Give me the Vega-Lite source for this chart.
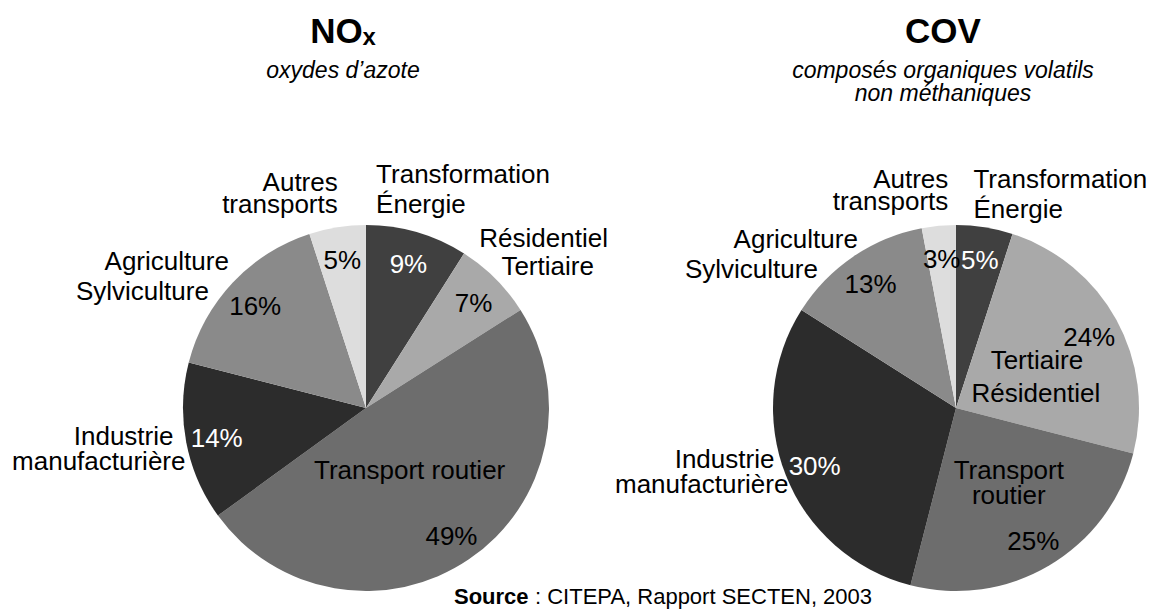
{
  "$schema": "https://vega.github.io/schema/vega-lite/v6.json",
  "background": "white",
  "padding": {"left": 12, "top": 14, "right": 5, "bottom": 5},
  "config": {
    "font": "Liberation Sans",
    "view": {"stroke": null},
    "title": {"font": "Liberation Sans", "subtitleFont": "Liberation Sans", "color": "black", "subtitleColor": "black"}
  },
  "datasets": {
    "nox": [
      {"idx": 1, "cat": "Transformation Énergie", "l1": "Transformation", "l2": "Énergie", "p": 0.09},
      {"idx": 2, "cat": "Résidentiel Tertiaire", "l1": "Résidentiel", "l2": "Tertiaire", "p": 0.07},
      {"idx": 3, "cat": "Transport routier", "l1": "Transport routier", "l2": "", "p": 0.49},
      {"idx": 4, "cat": "Industrie manufacturière", "l1": "Industrie", "l2": "manufacturière", "p": 0.14},
      {"idx": 5, "cat": "Agriculture Sylviculture", "l1": "Agriculture", "l2": "Sylviculture", "p": 0.16},
      {"idx": 6, "cat": "Autres transports", "l1": "Autres", "l2": "transports", "p": 0.05}
    ],
    "cov": [
      {"idx": 1, "cat": "Transformation Énergie", "l1": "Transformation", "l2": "Énergie", "p": 0.05},
      {"idx": 2, "cat": "Résidentiel Tertiaire", "l1": "Tertiaire", "l2": "Résidentiel", "p": 0.24},
      {"idx": 3, "cat": "Transport routier", "l1": "Transport", "l2": "routier", "p": 0.25},
      {"idx": 4, "cat": "Industrie manufacturière", "l1": "Industrie", "l2": "manufacturière", "p": 0.30},
      {"idx": 5, "cat": "Agriculture Sylviculture", "l1": "Agriculture", "l2": "Sylviculture", "p": 0.13},
      {"idx": 6, "cat": "Autres transports", "l1": "Autres", "l2": "transports", "p": 0.03}
    ]
  },
  "bounds": "flush",
  "title": {"text": ": CITEPA, Rapport SECTEN, 2003", "orient": "bottom", "anchor": "start", "frame": "group", "fontSize": 22, "fontWeight": "normal", "offset": -46, "dx": 369},
  "vconcat": [
    {
      "spacing": 190,
      "bounds": "flush",
      "title": {"text": "Source", "orient": "bottom", "anchor": "start", "frame": "group", "fontSize": 22, "fontWeight": "bold", "offset": -46, "dx": 288},
      "hconcat": [
        {
          "width": 400,
          "height": 370,
          "data": {"name": "nox"},
          "title": {"text": "NOₓ", "subtitle": "oxydes d’azote", "anchor": "middle", "frame": "group", "fontSize": 35, "fontWeight": "bold", "subtitleFontSize": 23, "subtitleFontStyle": "italic", "subtitlePadding": 10, "offset": 73, "dx": -23},
          "encoding": {
            "theta": {"field": "p", "type": "quantitative", "stack": true},
            "order": {"field": "idx", "type": "quantitative"},
            "detail": {"field": "cat", "type": "nominal"}
          },
          "layer": [
            {"mark": {"type": "arc", "outerRadius": 183},
             "encoding": {"color": {"field": "cat", "type": "nominal", "legend": null,
               "scale": {"domain": ["Transformation Énergie", "Résidentiel Tertiaire", "Transport routier", "Industrie manufacturière", "Agriculture Sylviculture", "Autres transports"],
                         "range": ["#404040", "#a9a9a9", "#6d6d6d", "#2c2c2c", "#8a8a8a", "#dddddd"]}}}},
            {"mark": {"type": "text", "radius": 152, "dy": 3, "fontSize": 26, "baseline": "middle"},
             "encoding": {"text": {"field": "p", "type": "quantitative", "format": ".0%"},
               "color": {"condition": {"test": "datum.idx === 1 || datum.idx === 4", "value": "white"}, "value": "black"}}},
            {"mark": {"type": "text", "radius": 219, "dx": -51, "dy": -15, "align": "left", "baseline": "alphabetic", "fontSize": 26},
             "encoding": {"text": {"condition": {"test": "datum.idx === 1", "field": "l1", "type": "nominal"}, "value": ""}}},
            {"mark": {"type": "text", "radius": 219, "dx": -51, "dy": 15, "align": "left", "baseline": "alphabetic", "fontSize": 26},
             "encoding": {"text": {"condition": {"test": "datum.idx === 1", "field": "l2", "type": "nominal"}, "value": ""}}},
            {"mark": {"type": "text", "radius": 230, "dx": 15, "dy": 2, "align": "center", "baseline": "alphabetic", "fontSize": 26},
             "encoding": {"text": {"condition": {"test": "datum.idx === 2", "field": "l1", "type": "nominal"}, "value": ""}}},
            {"mark": {"type": "text", "radius": 230, "dx": 19, "dy": 30, "align": "center", "baseline": "alphabetic", "fontSize": 26},
             "encoding": {"text": {"condition": {"test": "datum.idx === 2", "field": "l2", "type": "nominal"}, "value": ""}}},
            {"mark": {"type": "text", "radius": 83, "dx": -3, "dy": 2, "align": "center", "baseline": "alphabetic", "fontSize": 26},
             "encoding": {"text": {"condition": {"test": "datum.idx === 3", "field": "l1", "type": "nominal"}, "value": ""}}},
            {"mark": {"type": "text", "radius": 196, "dx": 0, "dy": 0, "align": "right", "baseline": "alphabetic", "fontSize": 26},
             "encoding": {"text": {"condition": {"test": "datum.idx === 4", "field": "l1", "type": "nominal"}, "value": ""}}},
            {"mark": {"type": "text", "radius": 196, "dx": 12, "dy": 25, "align": "right", "baseline": "alphabetic", "fontSize": 26},
             "encoding": {"text": {"condition": {"test": "datum.idx === 4", "field": "l2", "type": "nominal"}, "value": ""}}},
            {"mark": {"type": "text", "radius": 195, "dx": 5, "dy": -5, "align": "right", "baseline": "alphabetic", "fontSize": 26},
             "encoding": {"text": {"condition": {"test": "datum.idx === 5", "field": "l1", "type": "nominal"}, "value": ""}}},
            {"mark": {"type": "text", "radius": 195, "dx": -15, "dy": 25, "align": "right", "baseline": "alphabetic", "fontSize": 26},
             "encoding": {"text": {"condition": {"test": "datum.idx === 5", "field": "l2", "type": "nominal"}, "value": ""}}},
            {"mark": {"type": "text", "radius": 219, "dx": 6, "dy": -1, "align": "right", "baseline": "alphabetic", "fontSize": 26},
             "encoding": {"text": {"condition": {"test": "datum.idx === 6", "field": "l1", "type": "nominal"}, "value": ""}}},
            {"mark": {"type": "text", "radius": 219, "dx": 6, "dy": 21, "align": "right", "baseline": "alphabetic", "fontSize": 26},
             "encoding": {"text": {"condition": {"test": "datum.idx === 6", "field": "l2", "type": "nominal"}, "value": ""}}}
          ]
        },
        {
          "width": 400,
          "height": 370,
          "data": {"name": "cov"},
          "title": {"text": "COV", "subtitle": ["composés organiques volatils", "non méthaniques"], "anchor": "middle", "frame": "group", "fontSize": 35, "fontWeight": "bold", "subtitleFontSize": 23, "subtitleFontStyle": "italic", "subtitlePadding": 10, "subtitleLineHeight": 23, "offset": 59, "dx": -13},
          "encoding": {
            "theta": {"field": "p", "type": "quantitative", "stack": true},
            "order": {"field": "idx", "type": "quantitative"},
            "detail": {"field": "cat", "type": "nominal"}
          },
          "layer": [
            {"mark": {"type": "arc", "outerRadius": 183},
             "encoding": {"color": {"field": "cat", "type": "nominal", "legend": null,
               "scale": {"domain": ["Transformation Énergie", "Résidentiel Tertiaire", "Transport routier", "Industrie manufacturière", "Agriculture Sylviculture", "Autres transports"],
                         "range": ["#404040", "#a9a9a9", "#6d6d6d", "#2c2c2c", "#8a8a8a", "#dddddd"]}}}},
            {"mark": {"type": "text", "radius": 152, "dy": 3, "fontSize": 26, "baseline": "middle"},
             "encoding": {"text": {"field": "p", "type": "quantitative", "format": ".0%"},
               "color": {"condition": {"test": "datum.idx === 1 || datum.idx === 4", "value": "white"}, "value": "black"}}},
            {"mark": {"type": "text", "radius": 220, "dx": -17, "dy": -3, "align": "left", "baseline": "alphabetic", "fontSize": 26},
             "encoding": {"text": {"condition": {"test": "datum.idx === 1", "field": "l1", "type": "nominal"}, "value": ""}}},
            {"mark": {"type": "text", "radius": 220, "dx": -17, "dy": 27, "align": "left", "baseline": "alphabetic", "fontSize": 26},
             "encoding": {"text": {"condition": {"test": "datum.idx === 1", "field": "l2", "type": "nominal"}, "value": ""}}},
            {"mark": {"type": "text", "radius": 90, "dx": 2, "dy": 4, "align": "center", "baseline": "alphabetic", "fontSize": 26},
             "encoding": {"text": {"condition": {"test": "datum.idx === 2", "field": "l1", "type": "nominal"}, "value": ""}}},
            {"mark": {"type": "text", "radius": 90, "dx": 1, "dy": 37, "align": "center", "baseline": "alphabetic", "fontSize": 26},
             "encoding": {"text": {"condition": {"test": "datum.idx === 2", "field": "l2", "type": "nominal"}, "value": ""}}},
            {"mark": {"type": "text", "radius": 88, "dx": 8, "dy": -5, "align": "center", "baseline": "alphabetic", "fontSize": 26},
             "encoding": {"text": {"condition": {"test": "datum.idx === 3", "field": "l1", "type": "nominal"}, "value": ""}}},
            {"mark": {"type": "text", "radius": 88, "dx": 8, "dy": 20, "align": "center", "baseline": "alphabetic", "fontSize": 26},
             "encoding": {"text": {"condition": {"test": "datum.idx === 3", "field": "l2", "type": "nominal"}, "value": ""}}},
            {"mark": {"type": "text", "radius": 191, "dx": -4, "dy": -10, "align": "right", "baseline": "alphabetic", "fontSize": 26},
             "encoding": {"text": {"condition": {"test": "datum.idx === 4", "field": "l1", "type": "nominal"}, "value": ""}}},
            {"mark": {"type": "text", "radius": 191, "dx": 10, "dy": 15, "align": "right", "baseline": "alphabetic", "fontSize": 26},
             "encoding": {"text": {"condition": {"test": "datum.idx === 4", "field": "l2", "type": "nominal"}, "value": ""}}},
            {"mark": {"type": "text", "radius": 187, "dx": 7, "dy": -5, "align": "right", "baseline": "alphabetic", "fontSize": 26},
             "encoding": {"text": {"condition": {"test": "datum.idx === 5", "field": "l1", "type": "nominal"}, "value": ""}}},
            {"mark": {"type": "text", "radius": 187, "dx": -33, "dy": 25, "align": "right", "baseline": "alphabetic", "fontSize": 26},
             "encoding": {"text": {"condition": {"test": "datum.idx === 5", "field": "l2", "type": "nominal"}, "value": ""}}},
            {"mark": {"type": "text", "radius": 220, "dx": 13, "dy": -1, "align": "right", "baseline": "alphabetic", "fontSize": 26},
             "encoding": {"text": {"condition": {"test": "datum.idx === 6", "field": "l1", "type": "nominal"}, "value": ""}}},
            {"mark": {"type": "text", "radius": 220, "dx": 13, "dy": 21, "align": "right", "baseline": "alphabetic", "fontSize": 26},
             "encoding": {"text": {"condition": {"test": "datum.idx === 6", "field": "l2", "type": "nominal"}, "value": ""}}}
          ]
        }
      ]
    }
  ]
}
